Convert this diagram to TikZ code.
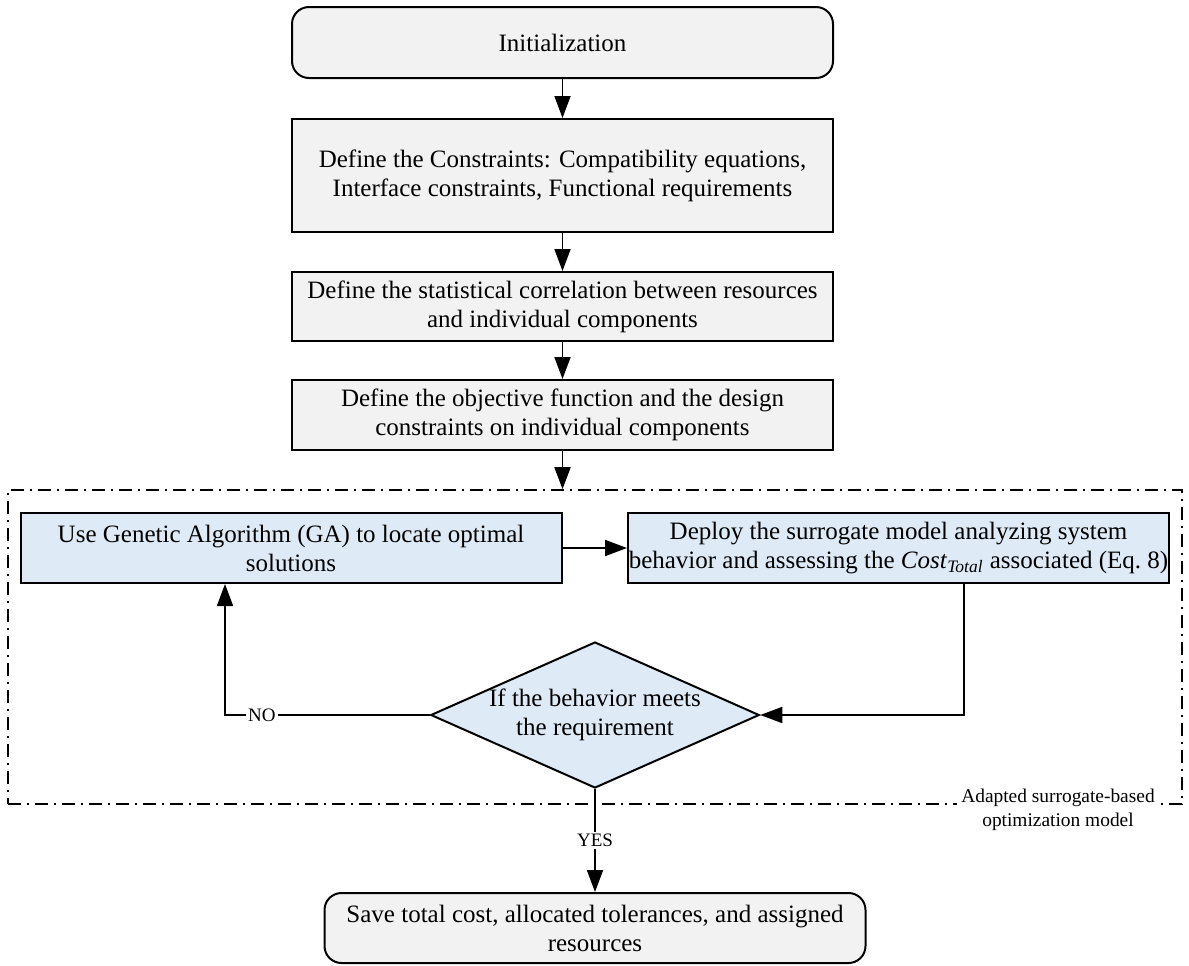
\documentclass[tikz,border=0pt]{standalone}
\usepackage{fontspec}
\setmainfont{Liberation Serif}
\usetikzlibrary{arrows.meta,shapes.geometric}
\definecolor{boxgray}{HTML}{F2F2F2}
\definecolor{boxblue}{HTML}{DEEBF7}

\begin{document}
\begin{tikzpicture}[x=0.5pt,y=-0.5pt,font=\fontsize{12.5}{14.5}\selectfont,
  box/.style={draw,line width=1pt,fill=boxgray,minimum width=270.5pt,align=center,inner sep=0pt},
  rbox/.style={box,rounded corners=8.5pt},
  bbox/.style={box,fill=boxblue},
  test/.style={diamond,draw,line width=1pt,fill=boxblue,aspect=2.25,inner sep=0pt,align=center},
  frame/.style={draw,line width=0.8pt,dash pattern=on 6.5pt off 3pt on 1pt off 3pt},
  arr/.style={-{Triangle[length=11pt,width=8pt]},line width=0.9pt},
  yn/.style={fill=white,inner sep=1pt,font=\fontsize{9.5}{11}\selectfont},
  lbl/.style={fill=white,inner sep=2pt,align=center,font=\fontsize{9.7}{12}\selectfont}]
\useasboundingbox (0,0) rectangle (1189,965);
% main column
\node[rbox,minimum height=35.5pt] (init) at (562.5,42.5) {Initialization};
\node[box,minimum height=56.5pt] (cons) at (562.5,175.5) {Define the Constraints: Compatibility equations,\\Interface constraints, Functional requirements};
\node[box,minimum height=34.5pt] (corr) at (562.5,306.5) {Define the statistical correlation between resources\\and individual components};
\node[box,minimum height=35pt] (obj) at (562.5,415) {Define the objective function and the design\\constraints on individual components};
% optimization loop
\node[frame,minimum width=587pt,minimum height=157pt] (loop) at (595,647) {};
\node[lbl] (looplbl) at (1058,810) {Adapted surrogate-based\\optimization model};
\node[bbox,minimum height=35pt] (ga) at (291,548) {Use Genetic Algorithm (GA) to locate optimal\\solutions};
\node[bbox,minimum height=35pt] (sur) at (898.5,548) {Deploy the surrogate model analyzing system\\behavior and assessing the \textit{Cost}\textsubscript{\textit{Total}} associated (Eq.~8)};
\node[test] (chk) at (595,715) {If the behavior meets\\the requirement};
\node[rbox,minimum height=35pt] (save) at (595,928) {Save total cost, allocated tolerances, and assigned\\resources};

\foreach \a/\b in {init/cons,cons/corr,corr/obj}{
\draw[arr] (\a) -- (\b);
}
\draw[arr] (obj) -- (obj |- loop.north);
\draw[arr] (ga) -- (sur);
\draw[arr] ([xshift=32.75pt]sur.south) |- (chk.east);
\draw[arr] (chk.west) -| node[yn,pos=.41] {NO} ([xshift=-33pt]ga.south);
\draw[arr] (chk.south) -- node[yn] {YES} (save.north);
\end{tikzpicture}
\end{document}
